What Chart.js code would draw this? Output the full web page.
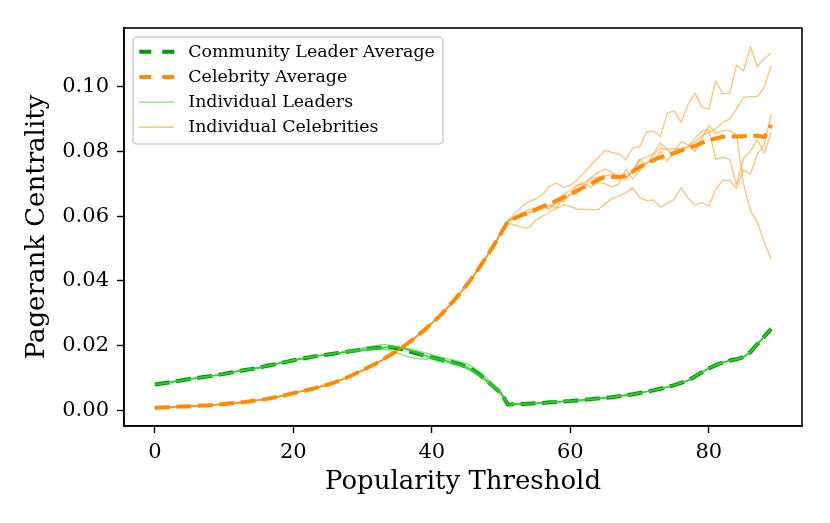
<!DOCTYPE html>
<html>
<head>
<meta charset="utf-8">
<script src="https://cdn.jsdelivr.net/npm/chart.js@4.4.1/dist/chart.umd.min.js"></script>
<style>
html,body{margin:0;padding:0;background:#fff;}
canvas{display:block;}
</style>
</head>
<body>
<canvas id="c" width="830" height="523" style="width:830px;height:523px"></canvas>
<script>
// ---------------- data ----------------
const thresholds = [0,1,2,3,4,5,6,7,8,9,10,11,12,13,14,15,16,17,18,19,20,21,22,23,24,25,26,27,28,29,
  30,31,32,33,34,35,36,37,38,39,40,41,42,43,44,45,46,47,48,49,50,51,52,53,54,55,56,57,58,59,
  60,61,62,63,64,65,66,67,68,69,70,71,72,73,74,75,76,77,78,79,80,81,82,83,84,85,86,87,88,89];

const yTicks = [0, 0.02, 0.04, 0.06, 0.08, 0.10];
const xTicks = [0, 20, 40, 60, 80];

const leaderAverage = [0.0080,0.0083,0.0086,0.0090,0.0093,0.0097,0.0100,0.0103,0.0106,0.0109,
  0.0113,0.0117,0.0121,0.0125,0.0128,0.0132,0.0137,0.0141,0.0146,0.0150,
  0.0155,0.0159,0.0163,0.0167,0.0170,0.0173,0.0176,0.0179,0.0182,0.0185,
  0.0188,0.0191,0.0193,0.0195,0.0195,0.0192,0.0187,0.0181,0.0175,0.0169,
  0.0164,0.0159,0.0154,0.0149,0.0143,0.0135,0.0124,0.0109,0.0091,0.0072,
  0.0053,0.0018,0.0019,0.0020,0.0021,0.0022,0.0023,0.0025,0.0026,0.0028,
  0.0029,0.0031,0.0033,0.0035,0.0037,0.0039,0.0041,0.0044,0.0047,0.0050,
  0.0054,0.0058,0.0062,0.0067,0.0072,0.0078,0.0085,0.0093,0.0105,0.0118,
  0.0130,0.0140,0.0148,0.0154,0.0158,0.0165,0.0180,0.0205,0.0228,0.0252];

const celebrityAverage = [0.0008,0.0009,0.0010,0.0011,0.0012,0.0013,0.0014,0.0015,0.0016,0.0018,
  0.0020,0.0022,0.0024,0.0026,0.0029,0.0032,0.0035,0.0039,0.0043,0.0048,
  0.0053,0.0058,0.0063,0.0068,0.0074,0.0080,0.0087,0.0095,0.0104,0.0114,
  0.0124,0.0135,0.0146,0.0158,0.0171,0.0184,0.0199,0.0215,0.0232,0.0250,
  0.0269,0.0289,0.0311,0.0335,0.0360,0.0387,0.0415,0.0446,0.0478,0.0512,
  0.0548,0.0584,0.0594,0.0603,0.0610,0.0620,0.0630,0.0638,0.0648,0.0658,
  0.0668,0.0679,0.0690,0.0701,0.0712,0.0722,0.0721,0.0720,0.0725,0.0738,
  0.0752,0.0763,0.0773,0.0782,0.0788,0.0795,0.0803,0.0810,0.0817,0.0826,
  0.0834,0.0840,0.0845,0.0846,0.0846,0.0847,0.0848,0.0848,0.0844,0.0882];

// individual leaders: common start (x 0..27), own middle part (x 28..51), common end (x 52..89)
const leaderStart = [0.0080,0.0083,0.0086,0.0090,0.0093,0.0097,0.0100,0.0103,0.0106,0.0109,
  0.0113,0.0117,0.0121,0.0125,0.0128,0.0132,0.0137,0.0141,0.0146,0.0150,
  0.0155,0.0159,0.0163,0.0167,0.0170,0.0173,0.0176,0.0179];
const leader1Mid = [0.0184,0.0188,0.0193,0.0197,0.0201,0.0204,0.0201,0.0197,0.0190,0.0183,0.0176,0.0170,
  0.0165,0.0160,0.0155,0.0150,0.0144,0.0136,0.0124,0.0108,0.0090,0.0071,0.0052,0.0018];
const leader2Mid = [0.0181,0.0183,0.0185,0.0187,0.0188,0.0189,0.0185,0.0178,0.0170,0.0163,0.0160,0.0158,
  0.0161,0.0160,0.0153,0.0147,0.0140,0.0131,0.0119,0.0104,0.0087,0.0069,0.0050,0.0018];
const leader3Mid = [0.0182,0.0185,0.0188,0.0192,0.0194,0.0196,0.0197,0.0196,0.0193,0.0189,0.0184,0.0178,
  0.0172,0.0166,0.0161,0.0156,0.0151,0.0144,0.0133,0.0118,0.0098,0.0077,0.0056,0.0018];
const leader4Mid = [0.0183,0.0186,0.0189,0.0190,0.0192,0.0193,0.0195,0.0193,0.0190,0.0185,0.0178,0.0171,
  0.0163,0.0157,0.0153,0.0148,0.0142,0.0134,0.0123,0.0108,0.0091,0.0073,0.0055,0.0018];
const leader5Mid = [0.0180,0.0183,0.0185,0.0189,0.0190,0.0193,0.0197,0.0196,0.0192,0.0185,0.0177,0.0168,
  0.0159,0.0152,0.0148,0.0144,0.0138,0.0130,0.0121,0.0107,0.0089,0.0070,0.0052,0.0018];
const leaderEnd = [0.0019,0.0020,0.0021,0.0022,0.0023,0.0025,0.0026,0.0028,
  0.0029,0.0031,0.0033,0.0035,0.0037,0.0039,0.0041,0.0044,0.0047,0.0050,
  0.0054,0.0058,0.0062,0.0067,0.0072,0.0078,0.0085,0.0093,0.0105,0.0118,
  0.0130,0.0140,0.0148,0.0154,0.0158,0.0165,0.0180,0.0205,0.0228,0.0252];

// individual celebrities: common start (x 0..50), own part (x 51..89)
const celebStart = [0.0008,0.0009,0.0010,0.0011,0.0012,0.0013,0.0014,0.0015,0.0016,0.0018,
  0.0020,0.0022,0.0024,0.0026,0.0029,0.0032,0.0035,0.0039,0.0043,0.0048,
  0.0053,0.0058,0.0063,0.0068,0.0074,0.0080,0.0087,0.0095,0.0104,0.0114,
  0.0124,0.0135,0.0146,0.0158,0.0171,0.0184,0.0199,0.0215,0.0232,0.0250,
  0.0269,0.0289,0.0311,0.0335,0.0360,0.0387,0.0415,0.0446,0.0478,0.0512,
  0.0548];
const celeb1End = [0.0584,0.0610,0.0630,0.0645,0.0653,0.0667,0.0693,0.0702,0.0688,
  0.0695,0.0712,0.0735,0.0758,0.0780,0.0803,0.0797,0.0792,0.0774,0.0810,
  0.0814,0.0860,0.0862,0.0846,0.0918,0.0925,0.0890,0.0945,0.0980,0.0936,
  0.0931,0.1018,0.0978,0.0980,0.1066,0.1048,0.1123,0.1062,0.1087,0.1103];
const celeb2End = [0.0585,0.0595,0.0600,0.0610,0.0615,0.0630,0.0635,0.0625,0.0655,
  0.0665,0.0670,0.0690,0.0720,0.0735,0.0745,0.0735,0.0720,0.0715,0.0740,
  0.0775,0.0760,0.0790,0.0810,0.0805,0.0790,0.0800,0.0815,0.0830,0.0850,
  0.0859,0.0870,0.0890,0.0900,0.0931,0.0967,0.0969,0.0969,0.0998,0.1065];
const celeb3End = [0.0588,0.0600,0.0610,0.0620,0.0625,0.0630,0.0620,0.0650,0.0645,
  0.0670,0.0695,0.0700,0.0690,0.0705,0.0700,0.0690,0.0700,0.0745,0.0715,
  0.0740,0.0765,0.0770,0.0800,0.0770,0.0800,0.0830,0.0820,0.0800,0.0840,
  0.0880,0.0855,0.0864,0.0864,0.0850,0.0700,0.0617,0.0581,0.0520,0.0468];
const celeb4End = [0.0578,0.0572,0.0566,0.0563,0.0588,0.0600,0.0612,0.0625,0.0635,
  0.0630,0.0622,0.0621,0.0620,0.0620,0.0638,0.0655,0.0662,0.0672,0.0688,
  0.0657,0.0648,0.0650,0.0628,0.0640,0.0652,0.0688,0.0655,0.0634,0.0642,
  0.0632,0.0682,0.0711,0.0710,0.0686,0.0743,0.0730,0.0792,0.0820,0.0916];
const celeb5End = [0.0585,0.0593,0.0609,0.0612,0.0619,0.0623,0.0630,0.0638,0.0667,
  0.0680,0.0696,0.0704,0.0717,0.0720,0.0724,0.0729,0.0726,0.0719,0.0737,
  0.0774,0.0782,0.0793,0.0826,0.0807,0.0808,0.0807,0.0815,0.0841,0.0862,
  0.0868,0.0775,0.0782,0.0776,0.0697,0.0777,0.0801,0.0836,0.0795,0.0858];

const legendLabels = ['Community Leader Average','Celebrity Average','Individual Leaders','Individual Celebrities'];

// ---------------- styling ----------------
const SERIF = "'DejaVu Serif', serif";
const GREEN = '#009a00';
const ORANGE = '#ff8c00';
const LIGHT_GREEN = 'rgba(50,205,50,0.6)';
const LIGHT_ORANGE = 'rgba(255,140,0,0.5)';

function pts(values){ return values.map((v,i)=>({x: thresholds[i], y: v})); }

const leaderMids = [leader1Mid, leader2Mid, leader3Mid, leader4Mid, leader5Mid];
const celebEnds = [celeb1End, celeb2End, celeb3End, celeb4End, celeb5End];

const datasets = [
  {label: legendLabels[0], data: pts(leaderAverage), borderColor: GREEN, borderWidth: 4,
   borderDash: [15, 6.5], order: 4},
  {label: legendLabels[1], data: pts(celebrityAverage), borderColor: ORANGE, borderWidth: 4,
   borderDash: [15, 6.5], order: 3}
];
leaderMids.forEach(m => datasets.push({label: legendLabels[2],
  data: pts(leaderStart.concat(m, leaderEnd)), borderColor: LIGHT_GREEN, borderWidth: 1.4, order: 2}));
celebEnds.forEach(e => datasets.push({label: legendLabels[3],
  data: pts(celebStart.concat(e)), borderColor: LIGHT_ORANGE, borderWidth: 1.4, order: 1}));
datasets.forEach(d => { d.pointRadius = 0; d.tension = 0; d.fill = false;
  d.borderCapStyle = 'butt'; d.borderJoinStyle = 'round'; });

const legendStyles = [
  {color: GREEN, width: 4, dash: [12, 11]},
  {color: ORANGE, width: 4, dash: [12, 11]},
  {color: LIGHT_GREEN, width: 1.4, dash: []},
  {color: LIGHT_ORANGE, width: 1.4, dash: []}
];

const framePlugin = {
  id: 'frame',
  afterDatasetsDraw(chart){
    const {ctx, chartArea: a} = chart;
    ctx.save();
    ctx.strokeStyle = '#000';
    ctx.lineWidth = 1.6;
    ctx.strokeRect(a.left, a.top, a.right - a.left, a.bottom - a.top);
    ctx.restore();
  }
};

const legendPlugin = {
  id: 'mplLegend',
  afterDraw(chart){
    const {ctx, chartArea: a} = chart;
    const x0 = a.left + 9, y0 = a.top + 9, w = 310, h = 107, r = 4;
    ctx.save();
    ctx.beginPath();
    ctx.moveTo(x0 + r, y0);
    ctx.arcTo(x0 + w, y0, x0 + w, y0 + h, r);
    ctx.arcTo(x0 + w, y0 + h, x0, y0 + h, r);
    ctx.arcTo(x0, y0 + h, x0, y0, r);
    ctx.arcTo(x0, y0, x0 + w, y0, r);
    ctx.closePath();
    ctx.fillStyle = 'rgba(255,255,255,0.8)';
    ctx.fill();
    ctx.strokeStyle = '#cccccc';
    ctx.lineWidth = 1.5;
    ctx.stroke();
    ctx.font = "17.4px " + SERIF;
    ctx.textBaseline = 'middle';
    ctx.textAlign = 'left';
    legendLabels.forEach((lab, i) => {
      const y = y0 + 14.7 + i * 25.2;
      const s = legendStyles[i];
      ctx.beginPath();
      ctx.setLineDash(s.dash);
      ctx.lineCap = 'butt';
      ctx.strokeStyle = s.color;
      ctx.lineWidth = s.width;
      ctx.moveTo(x0 + 6.3, y);
      ctx.lineTo(x0 + 41.3, y);
      ctx.stroke();
      ctx.setLineDash([]);
      ctx.fillStyle = '#000';
      ctx.fillText(lab, x0 + 55.3, y + 0.5);
    });
    ctx.restore();
  }
};

new Chart(document.getElementById('c'), {
  type: 'line',
  data: {datasets},
  options: {
    responsive: false,
    animation: false,
    events: [],
    layout: {padding: {left: 0, top: 28, right: 28, bottom: 0}},
    plugins: {legend: {display: false}, tooltip: {enabled: false}},
    scales: {
      x: {
        type: 'linear', min: -4.45, max: 93.45,
        afterBuildTicks: s => { s.ticks = xTicks.map(v => ({value: v})); },
        afterFit: s => { s.height = 97; },
        grid: {drawOnChartArea: false, drawTicks: true, tickLength: 7, tickColor: '#000', tickWidth: 1.4},
        border: {display: true, color: '#000', width: 1.6},
        ticks: {color: '#000', padding: 7, maxRotation: 0, font: {family: SERIF, size: 21},
                callback: v => String(v)},
        title: {display: true, text: 'Popularity Threshold', color: '#000',
                font: {family: SERIF, size: 26, lineHeight: 1.2}, padding: {top: 0, bottom: 25}}
      },
      y: {
        type: 'linear', min: -0.0048, max: 0.1181,
        afterBuildTicks: s => { s.ticks = yTicks.map(v => ({value: v})); },
        afterFit: s => { s.width = 124; },
        grid: {drawOnChartArea: false, drawTicks: true, tickLength: 7, tickColor: '#000', tickWidth: 1.4},
        border: {display: true, color: '#000', width: 1.6},
        ticks: {color: '#000', padding: 8, font: {family: SERIF, size: 21},
                callback: v => v.toFixed(2)},
        title: {display: true, text: 'Pagerank Centrality', color: '#000',
                font: {family: SERIF, size: 26, lineHeight: 1.2}, padding: {top: 22, bottom: 0}}
      }
    }
  },
  plugins: [framePlugin, legendPlugin]
});
</script>
</body>
</html>
